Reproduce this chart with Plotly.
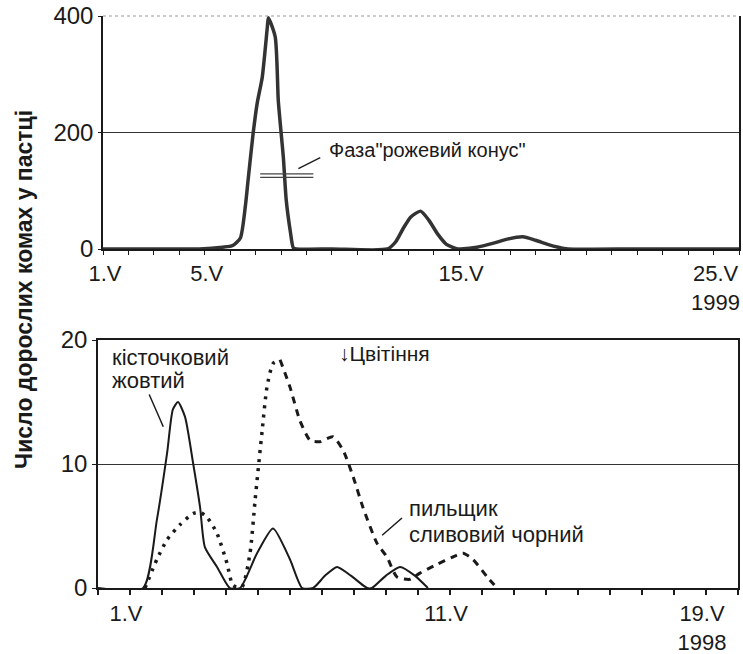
import plotly.graph_objects as go

# ---------------- data ----------------
# Top panel, 1999: adult insects per trap vs day of May
top_days = [1, 2, 3, 4, 4.8, 5.7, 6.1, 6.4, 6.6, 6.7, 6.9, 7.06, 7.26, 7.46, 7.5,
            7.77, 7.89, 8.0, 8.09, 8.2, 8.36, 8.48, 8.6, 10, 12.18, 12.5, 12.81,
            13.1, 13.48, 13.8, 14.15, 14.5, 14.94, 15.06, 15.7, 16.35, 16.9, 17.5,
            18.0, 18.48, 18.9, 19.27, 22, 26]
top_vals = [0, 0, 0, 0, 0, 3, 6, 19, 75, 117, 198, 250, 295, 381, 397,
            364, 255, 200, 157, 85, 31, 2, 0, 0, 0, 12, 36,
            55, 65, 50, 26, 8, 0, 0, 3, 10, 17, 21,
            15, 8, 3, 0, 0, 0]

# Bottom panel, 1998
# кісточковий жовтий (solid)
yellow_days = [0, 1.41, 1.84, 2.16, 2.34, 2.5, 2.72, 2.97, 3.19, 3.34, 3.72, 4.12,
               4.44, 4.97, 5.47, 6.0, 6.38, 6.72, 7.1, 7.47, 7.9, 8.41, 8.56, 9.0,
               9.44, 9.9, 10.31]
yellow_vals = [0, 0, 5.5, 10.9, 14.4, 15.0, 13.8, 10.1, 6.5, 3.3, 1.7, 0,
               0, 2.8, 4.8, 2.3, 0, 0, 1.0, 1.7, 1.0, 0, 0, 1.0,
               1.7, 1.0, 0]
# пильщик сливовий чорний (dotted rising part, dashed afterwards)
sawfly_days = [1.47, 1.84, 2.16, 2.56, 2.97, 3.19, 3.41, 3.72, 4.03, 4.22, 4.5,
               4.75, 4.91, 5.13, 5.28, 5.47, 5.69, 6.0, 6.31, 6.63, 6.94, 7.34,
               7.66, 7.97, 8.28, 8.72, 9.03, 9.34, 9.75, 10.06, 10.59, 11.09,
               11.41, 11.72, 12.16, 12.47]
sawfly_vals = [0, 2.3, 3.9, 5.1, 6.0, 6.1, 5.7, 4.4, 2.0, 0.2, 0.1,
               2.8, 7.1, 12.7, 16.2, 18.1, 18.4, 16.2, 13.5, 11.9, 11.8, 12.2,
               11.1, 9.0, 6.5, 3.6, 2.5, 0.9, 0.7, 1.2, 1.9, 2.5,
               2.8, 2.3, 0.9, 0]
sawfly_split = 16  # index of the main peak: dotted before, dashed after

top_tick_days = list(range(1, 27))
top_tick_labels = {1: "1.V", 5: "5.V", 15: "15.V", 25: "25.V<br>1999"}
bot_tick_days = list(range(0, 21))
bot_tick_labels = {1: "1.V", 11: "11.V", 19: "19.V<br>1998"}
top_yticks = [0, 200, 400]
bot_yticks = [0, 10, 20]

# ---------------- figure ----------------
W, H = 743, 654
FONT = "Liberation Sans, Arial, sans-serif"
INK = "#1a1a1a"

fig = go.Figure()
fig.add_trace(go.Scatter(x=top_days, y=top_vals, mode="lines", xaxis="x", yaxis="y",
                         line=dict(color="#333333", width=3.5, shape="spline", smoothing=0.6),
                         showlegend=False, hoverinfo="skip"))
fig.add_trace(go.Scatter(x=yellow_days, y=yellow_vals, mode="lines", xaxis="x2", yaxis="y2",
                         line=dict(color=INK, width=2, shape="spline", smoothing=0.6),
                         showlegend=False, hoverinfo="skip"))
fig.add_trace(go.Scatter(x=sawfly_days[:sawfly_split + 1], y=sawfly_vals[:sawfly_split + 1],
                         mode="lines", xaxis="x2", yaxis="y2",
                         line=dict(color=INK, width=3.5, dash="3px,6px", shape="spline", smoothing=0.6),
                         showlegend=False, hoverinfo="skip"))
fig.add_trace(go.Scatter(x=sawfly_days[sawfly_split:], y=sawfly_vals[sawfly_split:],
                         mode="lines", xaxis="x2", yaxis="y2",
                         line=dict(color=INK, width=3, dash="7px,6px", shape="spline", smoothing=0.6),
                         showlegend=False, hoverinfo="skip"))

def px_x(p):
    return p / W

def px_y(p):
    return (H - p) / H

tick_font = dict(family=FONT, size=24, color=INK)
xtick_font = dict(family=FONT, size=22, color=INK)

common = dict(automargin=False, ticklabeloverflow="allow")

fig.update_layout(
    width=W, height=H,
    margin=dict(l=0, r=0, t=0, b=0),
    paper_bgcolor="white", plot_bgcolor="white",
    xaxis=dict(domain=[px_x(103), px_x(739)], range=[1, 26], anchor="y",
               tickmode="array", tickvals=top_tick_days,
               ticktext=[top_tick_labels.get(d, "") for d in top_tick_days],
               ticks="outside", ticklen=4, tickcolor=INK, tickwidth=1,
               showline=True, linecolor=INK, linewidth=1.5, showgrid=False, zeroline=False,
               tickfont=xtick_font, ticklabelshift=2, ticklabelstandoff=0, **common),
    yaxis=dict(domain=[px_y(249), px_y(16)], range=[0, 400], anchor="x",
               tickmode="array", tickvals=top_yticks,
               ticks="outside", ticklen=3, tickcolor=INK,
               showline=True, linecolor=INK, linewidth=1.5, mirror=True,
               showgrid=True, gridcolor="#333333", gridwidth=1, zeroline=False,
               tickfont=tick_font, **common),
    xaxis2=dict(domain=[px_x(98), px_x(738)], range=[0, 20], anchor="y2",
                tickmode="array", tickvals=bot_tick_days,
                ticktext=[bot_tick_labels.get(d, "") for d in bot_tick_days],
                ticks="outside", ticklen=5, tickcolor=INK, tickwidth=1.5,
                showline=True, linecolor=INK, linewidth=1.5, mirror=True,
                showgrid=False, zeroline=False,
                tickfont=xtick_font, ticklabelshift=-4, ticklabelstandoff=0, **common),
    yaxis2=dict(domain=[px_y(588), px_y(340)], range=[0, 20], anchor="x2",
                tickmode="array", tickvals=bot_yticks,
                ticks="outside", ticklen=4, tickcolor=INK,
                showline=True, linecolor=INK, linewidth=1.5, mirror=True,
                showgrid=True, gridcolor="#333333", gridwidth=1, zeroline=False,
                tickfont=tick_font, **common),
)

# light top border of the upper panel
fig.add_shape(type="line", xref="x domain", yref="y domain", x0=0, x1=1, y0=1, y1=1,
              line=dict(color="#9a9a9a", width=1.2, dash="dot"))

ann_font = dict(family=FONT, size=22, color=INK)

# upper panel annotation
fig.add_annotation(x=9.82, y=170, xref="x", yref="y", text='Фаза"рожевий конус"',
                   showarrow=False, xanchor="left", yanchor="middle",
                   font=dict(family=FONT, size=20, color=INK))
fig.add_shape(type="line", xref="x", yref="y", x0=8.68, y0=138, x1=9.54, y1=157,
              line=dict(color=INK, width=1.3))
fig.add_shape(type="line", xref="x", yref="y", x0=7.18, y0=129, x1=9.27, y1=129,
              line=dict(color="#444444", width=1.3))
fig.add_shape(type="line", xref="x", yref="y", x0=7.18, y0=123, x1=9.27, y1=123,
              line=dict(color="#444444", width=1.3))

# lower panel annotations
fig.add_annotation(x=0.375, y=18.6, xref="x2", yref="y2", text="кісточковий",
                   showarrow=False, xanchor="left", yanchor="middle", font=ann_font)
fig.add_annotation(x=0.375, y=16.7, xref="x2", yref="y2", text="жовтий",
                   showarrow=False, xanchor="left", yanchor="middle", font=ann_font)
fig.add_shape(type="line", xref="x2", yref="y2", x0=1.6, y0=15.6, x1=2.04, y1=13.0,
              line=dict(color=INK, width=1.5))

fig.add_annotation(x=7.47, y=18.9, xref="x2", yref="y2", text="↓Цвітіння",
                   showarrow=False, xanchor="left", yanchor="middle",
                   font=dict(family=FONT, size=21, color=INK))

fig.add_annotation(x=9.66, y=6.4, xref="x2", yref="y2", text="пильщик",
                   showarrow=False, xanchor="left", yanchor="middle", font=ann_font)
fig.add_annotation(x=9.66, y=4.35, xref="x2", yref="y2", text="сливовий чорний",
                   showarrow=False, xanchor="left", yanchor="middle", font=ann_font)
fig.add_shape(type="line", xref="x2", yref="y2", x0=8.88, y0=4.25, x1=9.5, y1=5.65,
              line=dict(color=INK, width=1.5))

# shared y-axis title
fig.add_annotation(x=px_x(24), y=px_y(290), xref="paper", yref="paper",
                   text="<b>Число дорослих комах у пастці</b>", textangle=-90,
                   showarrow=False, xanchor="center", yanchor="middle",
                   font=dict(family=FONT, size=23, color=INK))

fig.write_html(
    "out.html",
    config={"displayModeBar": False},
    post_script="document.body.style.margin='0';document.body.style.overflow='hidden';",
)
